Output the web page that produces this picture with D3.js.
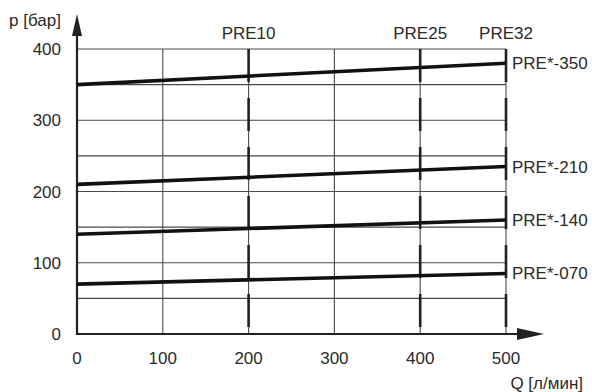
<!DOCTYPE html>
<html>
<head>
<meta charset="utf-8">
<script src="https://cdn.jsdelivr.net/npm/d3@7"></script>
<style>
  body { margin: 0; background: #fff; }
  svg { display: block; font-family: "Liberation Sans", Arial, sans-serif; }
</style>
</head>
<body>
<svg id="chart" width="592" height="392"></svg>
<script>
// data
const seriesNames = ["PRE*-350", "PRE*-210", "PRE*-140", "PRE*-070"];
const flowPoints = [0, 500];
const pressureStart = [350, 210, 140, 70];
const pressureEnd = [380, 235, 160, 85];
const xTicks = [0, 100, 200, 300, 400, 500];
const yTicks = [0, 100, 200, 300, 400];
const yGrid = [50, 100, 150, 200, 250, 300, 350, 400];
const sizeMarks = ["PRE10", "PRE25", "PRE32"];
const sizeFlows = [200, 400, 500];

const svg = d3.select("#chart");
const textColor = "#2a2a2a";
const fs = 17;

const x = d3.scaleLinear().domain([0, 500]).range([77, 506]);
const y = d3.scaleLinear().domain([0, 400]).range([334, 49]);

// grid
svg.append("g")
  .selectAll("line")
  .data(yGrid)
  .enter()
  .append("line")
  .attr("x1", x(0)).attr("x2", x(500))
  .attr("y1", d => y(d)).attr("y2", d => y(d))
  .attr("stroke", "#4a4a4a").attr("stroke-width", 1.1);

svg.append("g")
  .selectAll("line")
  .data(xTicks.filter(d => d > 0))
  .enter()
  .append("line")
  .attr("x1", d => x(d)).attr("x2", d => x(d))
  .attr("y1", y(0)).attr("y2", y(400))
  .attr("stroke", "#4a4a4a").attr("stroke-width", 1.1);

// thick dashed lines for PRE sizes
svg.append("g")
  .selectAll("line")
  .data(sizeFlows)
  .enter()
  .append("line")
  .attr("x1", d => x(d)).attr("x2", d => x(d))
  .attr("y1", y(400)).attr("y2", y(0))
  .attr("stroke", "#222").attr("stroke-width", 2.6)
  .attr("stroke-dasharray", "33,16");

svg.append("g")
  .selectAll("text")
  .data(sizeMarks)
  .enter()
  .append("text")
  .attr("x", (d, i) => x(sizeFlows[i]))
  .attr("y", 39)
  .attr("text-anchor", "middle")
  .attr("font-size", fs)
  .attr("fill", textColor)
  .text(d => d);

// axes
svg.append("line")
  .attr("x1", x(0)).attr("x2", x(0))
  .attr("y1", y(0) + 1).attr("y2", 30)
  .attr("stroke", "#222").attr("stroke-width", 2.2);
svg.append("path")
  .attr("d", `M${x(0)},14 L${x(0) - 5},36 L${x(0) + 5},36 Z`)
  .attr("fill", "#222");

svg.append("line")
  .attr("x1", x(0) - 1).attr("x2", 525)
  .attr("y1", y(0)).attr("y2", y(0))
  .attr("stroke", "#222").attr("stroke-width", 2.2);
svg.append("path")
  .attr("d", `M544,${y(0)} L517,${y(0) - 6} L517,${y(0) + 6} Z`)
  .attr("fill", "#222");

// tick labels
svg.append("g")
  .selectAll("text")
  .data(yTicks)
  .enter()
  .append("text")
  .attr("x", 61)
  .attr("y", d => y(d) + 6)
  .attr("text-anchor", "end")
  .attr("font-size", fs)
  .attr("fill", textColor)
  .text(d => d);

svg.append("g")
  .selectAll("text")
  .data(xTicks)
  .enter()
  .append("text")
  .attr("x", d => x(d))
  .attr("y", 364)
  .attr("text-anchor", "middle")
  .attr("font-size", fs)
  .attr("fill", textColor)
  .text(d => d);

svg.append("text")
  .attr("x", 9).attr("y", 26)
  .attr("font-size", fs)
  .attr("fill", textColor)
  .text("p [бар]");

svg.append("text")
  .attr("x", 583).attr("y", 389)
  .attr("text-anchor", "end")
  .attr("font-size", fs)
  .attr("fill", textColor)
  .text("Q [л/мин]");

// series
const line = d3.line().x(d => x(d[0])).y(d => y(d[1]));
seriesNames.forEach((name, i) => {
  const pts = [[flowPoints[0], pressureStart[i]], [flowPoints[1], pressureEnd[i]]];
  svg.append("path")
    .attr("d", line(pts))
    .attr("fill", "none")
    .attr("stroke", "#111")
    .attr("stroke-width", 3.6);
  svg.append("text")
    .attr("x", x(500) + 6)
    .attr("y", y(pressureEnd[i]) + 6)
    .attr("font-size", fs)
    .attr("fill", textColor)
    .text(name);
});
</script>
</body>
</html>
